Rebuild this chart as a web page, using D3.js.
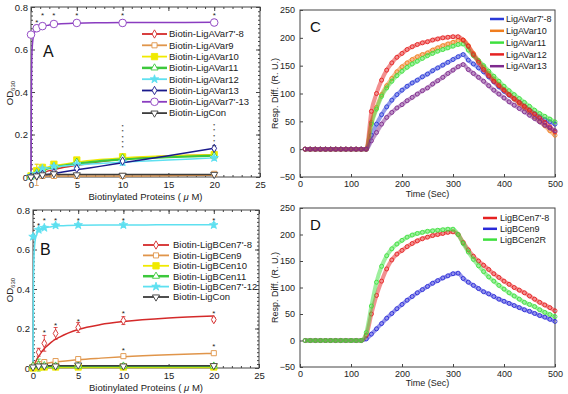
<!DOCTYPE html>
<html>
<head>
<meta charset="utf-8">
<script src="https://cdn.jsdelivr.net/npm/d3@7"></script>
<style>
body{margin:0;background:#fff;}
svg{display:block;font-family:'Liberation Sans',Arial,sans-serif;}
</style>
</head>
<body>
<div id="plot"></div>
<script>
//Concentrations (uM) used in panels A and B
const conc = [0, 0.625, 1.25, 2.5, 5, 10, 20];
const fitConc = [0, 0.05, 0.1, 0.25, 0.5, 1, 2, 3, 5, 7.5, 10, 15, 20];

//Panel A
const namesA = ["Biotin-LigAVar7'-8", 'Biotin-LigAVar9', 'Biotin-LigAVar10', 'Biotin-LigAVar11', 'Biotin-LigAVar12', 'Biotin-LigAVar13', "Biotin-LigAVar7'-13", 'Biotin-LigCon'];
const odA = [
	[0.002, 0.01, 0.02, 0.03, 0.055, 0.085, 0.1],
	[0.0, 0.01, 0.005, 0.005, 0.005, 0.005, 0.015],
	[0.005, 0.03, 0.045, 0.06, 0.08, 0.095, 0.105],
	[0.005, 0.02, 0.035, 0.05, 0.07, 0.09, 0.1],
	[0.005, 0.015, 0.04, 0.05, 0.06, 0.07, 0.09],
	[0.0, 0.005, 0.012, 0.02, 0.04, 0.075, 0.135],
	[0.67, 0.7, 0.71, 0.72, 0.725, 0.725, 0.727],
	[0.0, 0.005, 0.01, 0.015, 0.01, 0.008, 0.012]
];
const errA = [
	[0, 0.005, 0.01, 0.01, 0.01, 0.012, 0.01],
	[0, 0.05, 0.01, 0.01, 0.01, 0.01, 0.01],
	[0, 0.03, 0.015, 0.012, 0.012, 0.015, 0.012],
	[0, 0.01, 0.01, 0.01, 0.01, 0.015, 0.012],
	[0, 0.01, 0.015, 0.012, 0.012, 0.015, 0.012],
	[0, 0.005, 0.008, 0.008, 0.008, 0.01, 0.012],
	[0.01, 0.015, 0.015, 0.012, 0.01, 0.015, 0.015],
	[0, 0.005, 0.005, 0.005, 0.005, 0.005, 0.005]
];
const fitA = [
	[0, 0.001, 0.002, 0.005, 0.009, 0.017, 0.03, 0.04, 0.055, 0.072, 0.085, 0.098, 0.105],
	[0.005, 0.005, 0.005, 0.005, 0.005, 0.005, 0.005, 0.005, 0.005, 0.005, 0.005, 0.006, 0.008],
	[0, 0.004, 0.008, 0.016, 0.025, 0.035, 0.048, 0.056, 0.07, 0.082, 0.09, 0.1, 0.105],
	[0, 0.003, 0.006, 0.013, 0.02, 0.03, 0.042, 0.05, 0.063, 0.075, 0.083, 0.093, 0.1],
	[0, 0.004, 0.008, 0.016, 0.024, 0.033, 0.043, 0.049, 0.057, 0.064, 0.07, 0.08, 0.09],
	[0, 0.0003, 0.0007, 0.0017, 0.0034, 0.007, 0.013, 0.02, 0.034, 0.05, 0.067, 0.1, 0.135],
	[0, 0.45, 0.58, 0.66, 0.69, 0.705, 0.715, 0.72, 0.724, 0.726, 0.727, 0.727, 0.728],
	[0.012, 0.012, 0.012, 0.012, 0.012, 0.012, 0.012, 0.012, 0.012, 0.012, 0.012, 0.012, 0.012]
];
//single asterisks, and stacked columns of asterisks [x, lowest y, count]
const starsA = [[0.625, 0.735], [1.25, 0.765], [2.5, 0.765], [5, 0.765], [10, 0.765], [20, 0.765]];
const stacksA = [[10, 0.14, 5], [20, 0.145, 5]];

//Panel B
const namesB = ["Biotin-LigBCen7'-8", 'Biotin-LigBCen9', 'Biotin-LigBCen10', 'Biotin-LigBCen11', "Biotin-LigBCen7'-12", 'Biotin-LigCon'];
const odB = [
	[0.01, 0.08, 0.125, 0.175, 0.205, 0.24, 0.245],
	[0.0, 0.02, 0.03, 0.035, 0.045, 0.06, 0.075],
	[0.0, 0.005, 0.005, 0.005, 0.005, 0.005, 0.005],
	[0.01, 0.015, 0.012, 0.01, 0.01, 0.01, 0.01],
	[0.665, 0.7, 0.71, 0.722, 0.724, 0.724, 0.724],
	[0.005, 0.01, 0.01, 0.01, 0.015, 0.01, 0.012]
];
const errB = [
	[0, 0.02, 0.04, 0.03, 0.025, 0.02, 0.01],
	[0, 0.01, 0.01, 0.01, 0.01, 0.01, 0.01],
	[0, 0.02, 0.01, 0.005, 0.005, 0.005, 0.005],
	[0, 0.03, 0.02, 0.01, 0.01, 0.01, 0.01],
	[0.01, 0.01, 0.01, 0.01, 0.01, 0.012, 0.012],
	[0, 0.005, 0.005, 0.005, 0.005, 0.005, 0.005]
];
const fitB = [
	[0, 0.006, 0.012, 0.028, 0.05, 0.085, 0.13, 0.158, 0.195, 0.22, 0.235, 0.253, 0.263],
	[0, 0.002, 0.004, 0.008, 0.013, 0.02, 0.028, 0.033, 0.042, 0.05, 0.057, 0.067, 0.074],
	[0.003, 0.003, 0.003, 0.003, 0.003, 0.003, 0.003, 0.003, 0.003, 0.003, 0.003, 0.003, 0.003],
	[0.01, 0.01, 0.01, 0.01, 0.01, 0.01, 0.01, 0.01, 0.01, 0.01, 0.01, 0.01, 0.01],
	[0, 0.4, 0.55, 0.65, 0.685, 0.705, 0.715, 0.72, 0.723, 0.724, 0.724, 0.725, 0.725],
	[0.012, 0.012, 0.012, 0.012, 0.012, 0.012, 0.012, 0.012, 0.012, 0.012, 0.012, 0.012, 0.012]
];
const starsB = [[0.625, 0.73], [1.25, 0.755], [2.5, 0.755], [5, 0.755], [10, 0.755], [20, 0.755],
	[1.25, 0.185], [2.5, 0.222], [5, 0.245], [10, 0.286], [20, 0.286], [10, 0.096], [20, 0.118]];
const stacksB = [];

//Panels C and D: SPR sensorgrams, sampled every 10 s
const sprTime = [10, 20, 30, 40, 50, 60, 70, 80, 90, 100, 110, 120, 130, 140, 150, 160, 170, 180, 190, 200,
	210, 220, 230, 240, 250, 260, 270, 280, 290, 300, 310, 320, 330, 340, 350, 360, 370, 380, 390, 400,
	410, 420, 430, 440, 450, 460, 470, 480, 490, 500];

const namesC = ["LigAVar7'-8", 'LigAVar10', 'LigAVar11', 'LigAVar12', 'LigAVar13'];
const respC = [
	[0, 0, 0, 0, 0, 0, 0, 0, 0, 0, 0, 0, 0, 25, 45, 62, 76, 88, 98, 106, 113, 119, 124, 130, 135, 141, 146, 151, 156, 161, 166, 170, 160, 153, 146, 139, 130, 121, 112, 104, 97, 90, 84, 77, 70, 64, 58, 53, 49, 45],
	[0, 0, 0, 0, 0, 0, 0, 0, 0, 0, 0, 0, 0, 48, 75, 98, 114, 127, 139, 148, 155, 161, 166, 170, 173, 178, 182, 186, 189, 192, 195, 196, 186, 172, 159, 147, 136, 126, 116, 107, 98, 90, 82, 74, 66, 58, 50, 42, 33, 25],
	[0, 0, 0, 0, 0, 0, 0, 0, 0, 0, 0, 0, 0, 45, 72, 95, 110, 122, 132, 140, 147, 153, 158, 163, 168, 172, 176, 179, 182, 185, 188, 189, 178, 168, 159, 150, 140, 131, 122, 113, 105, 98, 91, 84, 77, 70, 64, 59, 54, 49],
	[0, 0, 0, 0, 0, 0, 0, 0, 0, 0, 0, 0, 0, 68, 100, 124, 142, 155, 165, 172, 179, 184, 188, 191, 193, 196, 198, 200, 201, 202, 202, 196, 185, 170, 156, 143, 132, 122, 114, 106, 98, 91, 84, 77, 70, 63, 56, 48, 40, 31],
	[0, 0, 0, 0, 0, 0, 0, 0, 0, 0, 0, 0, 0, 15, 30, 45, 57, 66, 74, 80, 87, 93, 99, 105, 110, 117, 123, 129, 136, 142, 148, 152, 143, 136, 129, 122, 114, 106, 99, 92, 85, 79, 73, 67, 61, 55, 49, 43, 38, 33]
];

const namesD = ["LigBCen7'-8", 'LigBCen9', 'LigBCen2R'];
const respD = [
	[0, 0, 0, 0, 0, 0, 0, 0, 0, 0, 0, 0, 10, 50, 85, 112, 135, 152, 163, 170, 177, 183, 188, 192, 195, 198, 200, 202, 204, 205, 200, 185, 171, 159, 150, 142, 134, 126, 119, 112, 106, 100, 95, 90, 84, 78, 72, 67, 62, 56],
	[0, 0, 0, 0, 0, 0, 0, 0, 0, 0, 0, 0, 3, 12, 22, 32, 42, 51, 60, 68, 76, 83, 90, 96, 102, 108, 113, 118, 122, 126, 127, 117, 110, 104, 98, 92, 88, 83, 78, 74, 70, 66, 62, 58, 55, 51, 47, 44, 40, 36],
	[0, 0, 0, 0, 0, 0, 0, 0, 0, 0, 0, 0, 15, 65, 110, 140, 160, 173, 182, 189, 195, 199, 202, 204, 206, 207, 208, 209, 210, 210, 200, 183, 167, 153, 141, 130, 120, 112, 104, 97, 90, 84, 78, 72, 68, 64, 58, 53, 49, 45]
];

//Styles
const styleA = [
	{color: '#d42a2a', sym: 'diamond', fill: false},
	{color: '#e0954a', sym: 'square', fill: false},
	{color: '#f0ea00', sym: 'square', fill: true},
	{color: '#3cc83c', sym: 'triangle', fill: false},
	{color: '#5ee0f0', sym: 'star', fill: true},
	{color: '#1a1a8c', sym: 'diamond', fill: false},
	{color: '#8a3cc0', sym: 'circle', fill: false},
	{color: '#3c3c3c', sym: 'triangleDown', fill: false}
];
const styleB = [styleA[0], styleA[1], styleA[2], styleA[3], styleA[4], styleA[7]];
const colorsC = ['#2a3ad8', '#f07d1e', '#3ee03e', '#e52222', '#7e2a8e'];
const colorsD = ['#e52222', '#2a2ad8', '#3ee03e'];

const svg = d3.select('#plot').append('svg').attr('width', 568).attr('height', 394);
svg.append('rect').attr('width', 568).attr('height', 394).attr('fill', '#fff');

const symTypes = {diamond: d3.symbolDiamond, square: d3.symbolSquare, triangle: d3.symbolTriangle,
	triangleDown: d3.symbolTriangle, circle: d3.symbolCircle, star: d3.symbolStar};
const symSizes = {diamond: 20, square: 26, triangle: 22, triangleDown: 22, circle: 45, star: 22};

function addMarker(g, st, cx, cy){
	const size = st.sym === 'square' && st.fill ? 40 : symSizes[st.sym];
	g.append('path')
		.attr('d', d3.symbol().type(symTypes[st.sym]).size(size)())
		.attr('transform', `translate(${cx},${cy})` + (st.sym === 'triangleDown' ? ' rotate(180)' : ''))
		.attr('fill', st.fill ? st.color : '#fff')
		.attr('stroke', st.color)
		.attr('stroke-width', 0.9);
}

function styleAxis(sel, fontSize){
	sel.select('.domain').remove();
	sel.selectAll('.tick line').attr('stroke', '#444');
	sel.selectAll('text').attr('fill', '#222').style('font-size', fontSize + 'px')
		.style('font-family', "'Liberation Sans',Arial,sans-serif");
}

//Draws an OD binding panel (A or B)
function drawOdPanel(cfg){
	const x = d3.scaleLinear().domain([0, 25]).range(cfg.xRange);
	const y = d3.scaleLinear().domain([0, 0.8]).range(cfg.yRange);
	const g = svg.append('g');
	const [x0, x1] = cfg.xRange, [yb, yt] = cfg.yRange;

	//ticks on all four sides, pointing in
	const xMajor = [0, 5, 10, 15, 20, 25], xMinor = d3.range(0, 25.5, 1);
	const yMajor = [0, 0.2, 0.4, 0.6, 0.8], yMinor = d3.range(0, 0.81, 0.02);
	const fmt = v => v === 0 ? '0' : d3.format('.1f')(v);

	g.append('g').attr('transform', `translate(0,${yb})`)
		.call(d3.axisBottom(x).tickValues(xMinor).tickSize(-2).tickFormat('')).call(s => styleAxis(s, 9.5));
	g.append('g').attr('transform', `translate(0,${yb})`)
		.call(d3.axisBottom(x).tickValues(xMajor).tickSize(-4).tickPadding(4)).call(s => styleAxis(s, 9.5));
	g.append('g').attr('transform', `translate(0,${yt})`)
		.call(d3.axisTop(x).tickValues(xMinor).tickSize(-2).tickFormat('')).call(s => styleAxis(s, 9.5));
	g.append('g').attr('transform', `translate(0,${yt})`)
		.call(d3.axisTop(x).tickValues(xMajor).tickSize(-4).tickFormat('')).call(s => styleAxis(s, 9.5));
	g.append('g').attr('transform', `translate(${x0},0)`)
		.call(d3.axisLeft(y).tickValues(yMinor).tickSize(-2).tickFormat('')).call(s => styleAxis(s, 9.5));
	g.append('g').attr('transform', `translate(${x0},0)`)
		.call(d3.axisLeft(y).tickValues(yMajor).tickSize(-4).tickPadding(3).tickFormat(fmt)).call(s => styleAxis(s, 9.5));
	g.append('g').attr('transform', `translate(${x1},0)`)
		.call(d3.axisRight(y).tickValues(yMinor).tickSize(-2).tickFormat('')).call(s => styleAxis(s, 9.5));
	g.append('g').attr('transform', `translate(${x1},0)`)
		.call(d3.axisRight(y).tickValues(yMajor).tickSize(-4).tickFormat('')).call(s => styleAxis(s, 9.5));

	g.append('rect').attr('x', x0).attr('y', yt).attr('width', x1 - x0).attr('height', yb - yt)
		.attr('fill', 'none').attr('stroke', '#444').attr('stroke-width', 1);

	//fitted curves
	const line = d3.line().x(d => x(d[0])).y(d => y(d[1])).curve(d3.curveMonotoneX);
	cfg.fits.forEach((f, i) => {
		const st = cfg.styles[i];
		g.append('path').datum(fitConc.map((c, j) => [c, f[j]]))
			.attr('d', line).attr('fill', 'none').attr('stroke', st.color)
			.attr('stroke-width', st.sym === 'triangle' ? 2.2 : 1.5);
	});

	//error bars
	cfg.values.forEach((vals, i) => {
		const st = cfg.styles[i];
		vals.forEach((v, j) => {
			const e = cfg.errs[i][j];
			if(e <= 0) return;
			const cx = x(conc[j]);
			g.append('path')
				.attr('d', `M${cx},${y(v - e)}V${y(v + e)}M${cx - 2},${y(v + e)}H${cx + 2}M${cx - 2},${y(v - e)}H${cx + 2}`)
				.attr('stroke', st.color).attr('stroke-width', 0.8).attr('fill', 'none');
		});
	});

	//markers
	cfg.values.forEach((vals, i) => {
		vals.forEach((v, j) => addMarker(g, cfg.styles[i], x(conc[j]), y(v)));
	});

	//significance asterisks
	cfg.stars.forEach(s => {
		g.append('text').attr('x', x(s[0])).attr('y', y(s[1]) + 4)
			.attr('text-anchor', 'middle').style('font-size', '8px').attr('fill', '#222').text('*');
	});
	//stacked asterisks are packed tightly, so they are drawn small
	cfg.stacks.forEach(s => {
		d3.range(s[2]).forEach(k => {
			g.append('text').attr('x', x(s[0])).attr('y', y(s[1] + k * 0.025) + 2)
				.attr('text-anchor', 'middle').style('font-size', '4.4px').style('font-weight', 'bold')
				.attr('fill', '#222').text('*');
		});
	});

	//legend
	cfg.names.forEach((n, i) => {
		const ly = cfg.legend.y + i * cfg.legend.dy;
		const st = cfg.styles[i];
		g.append('line').attr('x1', cfg.legend.x1).attr('x2', cfg.legend.x2).attr('y1', ly).attr('y2', ly)
			.attr('stroke', st.color).attr('stroke-width', st.sym === 'triangle' ? 2.5 : 1.8);
		addMarker(g, st, (cfg.legend.x1 + cfg.legend.x2) / 2, ly);
		g.append('text').attr('x', cfg.legend.tx).attr('y', ly).attr('dy', '0.35em')
			.style('font-size', '9.5px').attr('fill', '#222').text(n);
	});

	//panel letter
	g.append('text').attr('x', cfg.letter[0]).attr('y', cfg.letter[1])
		.style('font-size', '16px').attr('fill', '#111').text(cfg.letter[2]);

	//axis titles
	const yl = g.append('text').attr('transform', `translate(${cfg.yLabel[0]},${cfg.yLabel[1]}) rotate(-90)`)
		.attr('text-anchor', 'middle').style('font-size', '9.5px').attr('fill', '#222');
	yl.append('tspan').text('OD');
	yl.append('tspan').attr('dy', 2).style('font-size', '6px').text('630');

	const xl = g.append('text').attr('x', (x0 + x1) / 2).attr('y', cfg.xLabelY)
		.attr('text-anchor', 'middle').style('font-size', '9.5px').attr('fill', '#222');
	xl.append('tspan').text('Biotinylated Proteins ( ');
	xl.append('tspan').style('font-style', 'italic').text('\u03bc');
	xl.append('tspan').text(' M)');
}

//Draws an SPR sensorgram panel (C or D)
function drawSprPanel(cfg){
	const x = d3.scaleLinear().domain([0, 500]).range(cfg.xRange);
	const y = d3.scaleLinear().domain([-50, 250]).range(cfg.yRange);
	const g = svg.append('g');
	const [x0, x1] = cfg.xRange, [yb, yt] = cfg.yRange;

	g.append('g').attr('transform', `translate(0,${yb})`)
		.call(d3.axisBottom(x).tickValues([0, 100, 200, 300, 400, 500]).tickSize(-3).tickPadding(4))
		.call(s => styleAxis(s, 9));
	g.append('g').attr('transform', `translate(${x0},0)`)
		.call(d3.axisLeft(y).tickValues([-50, 0, 50, 100, 150, 200, 250]).tickSize(-3).tickPadding(5))
		.call(s => styleAxis(s, 9));
	g.append('rect').attr('x', x0).attr('y', yt).attr('width', x1 - x0).attr('height', yb - yt)
		.attr('fill', 'none').attr('stroke', '#444').attr('stroke-width', 1);

	const line = d3.line().x(d => x(d[0])).y(d => y(d[1])).curve(d3.curveMonotoneX);
	cfg.order.forEach(i => {
		const pts = sprTime.map((t, j) => [t, cfg.values[i][j]]);
		const c = cfg.colors[i];
		g.append('path').datum(pts).attr('d', line).attr('fill', 'none')
			.attr('stroke', c).attr('stroke-width', 4).attr('stroke-opacity', 0.5);
		g.selectAll(null).data(pts).enter().append('circle')
			.attr('cx', d => x(d[0])).attr('cy', d => y(d[1])).attr('r', 2)
			.attr('fill', 'none').attr('stroke', c).attr('stroke-width', 0.9);
	});

	cfg.names.forEach((n, i) => {
		const ly = cfg.legend.y + i * cfg.legend.dy;
		g.append('line').attr('x1', cfg.legend.x1).attr('x2', cfg.legend.x2).attr('y1', ly).attr('y2', ly)
			.attr('stroke', cfg.colors[i]).attr('stroke-width', 2.5);
		g.append('text').attr('x', cfg.legend.tx).attr('y', ly).attr('dy', '0.35em')
			.style('font-size', '9px').attr('fill', '#222').text(n);
	});

	g.append('text').attr('x', cfg.letter[0]).attr('y', cfg.letter[1])
		.style('font-size', '15px').attr('fill', '#111').text(cfg.letter[2]);

	g.append('text').attr('transform', `translate(${cfg.yLabelX},${(yb + yt) / 2}) rotate(-90)`)
		.attr('text-anchor', 'middle').style('font-size', '9px').attr('fill', '#222').text('Resp. Diff. (R. U.)');
	g.append('text').attr('x', (x0 + x1) / 2).attr('y', cfg.xLabelY)
		.attr('text-anchor', 'middle').style('font-size', '9px').attr('fill', '#222').text('Time (Sec)');
}

drawOdPanel({
	xRange: [31, 260], yRange: [177, 7],
	names: namesA, values: odA, errs: errA, fits: fitA, styles: styleA, stars: starsA, stacks: stacksA,
	legend: {x1: 142, x2: 167, tx: 169, y: 34, dy: 11.3},
	letter: [43, 57, 'A'], yLabel: [13, 93], xLabelY: 200
});
drawOdPanel({
	xRange: [33, 259], yRange: [368, 210],
	names: namesB, values: odB, errs: errB, fits: fitB, styles: styleB, stars: starsB, stacks: stacksB,
	legend: {x1: 143, x2: 169, tx: 173, y: 245, dy: 10.4},
	letter: [40, 255, 'B'], yLabel: [13, 290], xLabelY: 391
});
drawSprPanel({
	xRange: [300, 555], yRange: [177, 10],
	names: namesC, values: respC, colors: colorsC, order: [0, 1, 2, 3, 4],
	legend: {x1: 490, x2: 504, tx: 506, y: 19, dy: 11.8},
	letter: [310, 32, 'C'], yLabelX: 278, xLabelY: 197
});
drawSprPanel({
	xRange: [300, 555], yRange: [367, 208],
	names: namesD, values: respD, colors: colorsD, order: [1, 0, 2],
	legend: {x1: 483, x2: 497, tx: 500, y: 218, dy: 10.8},
	letter: [310, 230, 'D'], yLabelX: 278, xLabelY: 386
});
</script>
</body>
</html>
